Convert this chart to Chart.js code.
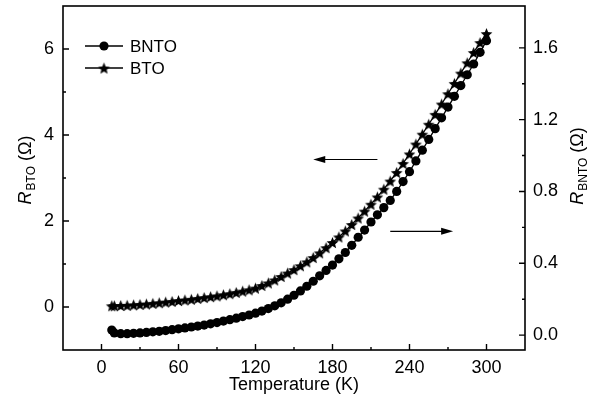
<!DOCTYPE html>
<html>
<head>
<meta charset="utf-8">
<script src="https://cdn.jsdelivr.net/npm/chart.js@4.4.0/dist/chart.umd.min.js"></script>
<style>
  html, body { margin: 0; padding: 0; background: #fff; }
</style>
</head>
<body>
<canvas id="chart" width="592" height="403"></canvas>
<script>
// temperature (K) and the two resistance curves
var temperature = [8, 10, 15, 20, 25, 30, 35, 40, 45, 50, 55, 60, 65, 70, 75, 80, 85, 90, 95, 100,
  105, 110, 115, 120, 125, 130, 135, 140, 145, 150, 155, 160, 165, 170, 175, 180, 185, 190, 195, 200,
  205, 210, 215, 220, 225, 230, 235, 240, 245, 250, 255, 260, 265, 270, 275, 280, 285, 290, 295, 300];
var bntoValues = [0.028, 0.012, 0.008, 0.008, 0.01, 0.012, 0.015, 0.018, 0.021, 0.025, 0.03, 0.035, 0.04, 0.045, 0.05, 0.056, 0.063, 0.07, 0.078, 0.086,
  0.094, 0.103, 0.112, 0.122, 0.134, 0.148, 0.163, 0.18, 0.2, 0.222, 0.246, 0.272, 0.3, 0.33, 0.36, 0.39, 0.425, 0.46, 0.5, 0.545,
  0.585, 0.63, 0.67, 0.71, 0.75, 0.8, 0.855, 0.91, 0.97, 1.03, 1.09, 1.15, 1.21, 1.27, 1.33, 1.39, 1.45, 1.51, 1.575, 1.64];
var btoValues = [0.03, 0.03, 0.035, 0.04, 0.05, 0.06, 0.07, 0.085, 0.1, 0.115, 0.13, 0.15, 0.165, 0.18, 0.2, 0.22, 0.24, 0.26, 0.285, 0.31,
  0.34, 0.37, 0.4, 0.44, 0.5, 0.56, 0.63, 0.71, 0.79, 0.87, 0.96, 1.05, 1.15, 1.26, 1.38, 1.5, 1.63, 1.77, 1.92, 2.07,
  2.23, 2.39, 2.56, 2.74, 2.93, 3.13, 3.34, 3.56, 3.79, 4.02, 4.25, 4.48, 4.72, 4.96, 5.2, 5.44, 5.68, 5.92, 6.15, 6.36];
var seriesNames = ['BNTO', 'BTO'];

var xTicks = [0, 60, 120, 180, 240, 300];
var xMinor = [30, 90, 150, 210, 270];
var leftTicks = [0, 2, 4, 6];
var leftMinor = [1, 3, 5];
var rightTicks = [0, 0.4, 0.8, 1.2, 1.6];
var rightMinor = [0.2, 0.6, 1.0, 1.4];

var FONT = '"Liberation Sans", Arial, sans-serif';

// filled five point star used as marker
function makeStar(r) {
  var c = document.createElement('canvas');
  var s = Math.ceil(r * 2) + 2;
  c.width = s; c.height = s;
  var g = c.getContext('2d');
  g.fillStyle = '#000';
  g.beginPath();
  for (var i = 0; i < 10; i++) {
    var rad = i % 2 == 0 ? r : r * 0.45;
    var a = -Math.PI / 2 + i * Math.PI / 5;
    var px = s / 2 + rad * Math.cos(a), py = s / 2 + 0.8 + rad * Math.sin(a);
    if (i == 0) g.moveTo(px, py); else g.lineTo(px, py);
  }
  g.closePath();
  g.fill();
  return c;
}
var starImg = makeStar(6.2);

function pts(vals) {
  return temperature.map(function (t, i) { return { x: t, y: vals[i] }; });
}

function drawRTitle(ctx, sub, cx, cy) {
  ctx.save();
  ctx.translate(cx, cy);
  ctx.rotate(-Math.PI / 2);
  ctx.fillStyle = '#000';
  ctx.textBaseline = 'alphabetic';
  ctx.textAlign = 'left';
  var fR = 'italic 18px ' + FONT, fS = '12px ' + FONT, fT = '18px ' + FONT;
  ctx.font = fR; var wR = ctx.measureText('R').width + 1;
  ctx.font = fS; var wS = ctx.measureText(sub).width;
  ctx.font = fT; var wT = ctx.measureText(' (\u03A9)').width;
  var x0 = -(wR + wS + wT) / 2;
  ctx.font = fR; ctx.fillText('R', x0, 6);
  ctx.font = fS; ctx.fillText(sub, x0 + wR, 10);
  ctx.font = fT; ctx.fillText(' (\u03A9)', x0 + wR + wS, 6);
  ctx.restore();
}

function arrow(ctx, x1, y, x2) {
  var dir = x2 > x1 ? 1 : -1;
  ctx.beginPath();
  ctx.moveTo(x1, y);
  ctx.lineTo(x2 - dir * 8, y);
  ctx.stroke();
  ctx.beginPath();
  ctx.moveTo(x2, y);
  ctx.lineTo(x2 - dir * 12, y - 3.5);
  ctx.lineTo(x2 - dir * 12, y + 3.5);
  ctx.closePath();
  ctx.fill();
}

function fixBox(width, height) {
  return function (s) {
    if (width) s.width = width;
    if (height) s.height = height;
    s.paddingTop = 0; s.paddingBottom = 0; s.paddingLeft = 0; s.paddingRight = 0;
  };
}

var framePlugin = {
  id: 'frame',
  afterDraw: function (chart) {
    var ctx = chart.ctx, a = chart.chartArea;
    var sx = chart.scales.x, sl = chart.scales.y, sr = chart.scales.y1;
    ctx.save();
    ctx.strokeStyle = '#000';
    ctx.fillStyle = '#000';
    ctx.lineWidth = 1.6;
    ctx.strokeRect(a.left, a.top, a.right - a.left, a.bottom - a.top);
    ctx.lineWidth = 1.4;
    ctx.beginPath();
    xTicks.forEach(function (v) { var p = sx.getPixelForValue(v); ctx.moveTo(p, a.bottom); ctx.lineTo(p, a.bottom - 6); });
    xMinor.forEach(function (v) { var p = sx.getPixelForValue(v); ctx.moveTo(p, a.bottom); ctx.lineTo(p, a.bottom - 3); });
    leftTicks.forEach(function (v) { var p = sl.getPixelForValue(v); ctx.moveTo(a.left, p); ctx.lineTo(a.left + 6, p); });
    leftMinor.forEach(function (v) { var p = sl.getPixelForValue(v); ctx.moveTo(a.left, p); ctx.lineTo(a.left + 3, p); });
    rightTicks.forEach(function (v) { var p = sr.getPixelForValue(v); ctx.moveTo(a.right, p); ctx.lineTo(a.right - 6, p); });
    rightMinor.forEach(function (v) { var p = sr.getPixelForValue(v); ctx.moveTo(a.right, p); ctx.lineTo(a.right - 3, p); });
    ctx.stroke();

    // arrows pointing to the axis each curve belongs to
    ctx.lineWidth = 1.2;
    arrow(ctx, sx.getPixelForValue(215), sl.getPixelForValue(3.43), sx.getPixelForValue(165));
    arrow(ctx, sx.getPixelForValue(225), sr.getPixelForValue(0.578), sx.getPixelForValue(274));

    // legend: line with marker in the middle
    ctx.font = '17px ' + FONT;
    ctx.textBaseline = 'middle';
    ctx.textAlign = 'left';
    chart.data.datasets.forEach(function (ds, i) {
      var y = 46 + i * 22;
      ctx.lineWidth = 1.4;
      ctx.beginPath(); ctx.moveTo(85, y); ctx.lineTo(123, y); ctx.stroke();
      if (ds.pointStyle == 'circle') {
        ctx.beginPath(); ctx.arc(104, y, 4.6, 0, Math.PI * 2); ctx.fill();
      } else {
        ctx.drawImage(starImg, 104 - starImg.width / 2, y - starImg.height / 2);
      }
      ctx.fillText(ds.label, 130, y + 1);
    });

    // axis titles
    ctx.font = '18px ' + FONT;
    ctx.textAlign = 'center';
    ctx.textBaseline = 'middle';
    ctx.fillText('Temperature (K)', (a.left + a.right) / 2, 385);
    drawRTitle(ctx, 'BTO', 25, 170);
    drawRTitle(ctx, 'BNTO', 577, 166);
    ctx.restore();
  }
};

var tickFont = { family: FONT, size: 18 };

new Chart(document.getElementById('chart'), {
  type: 'line',
  data: {
    datasets: [{
      label: seriesNames[0],
      data: pts(bntoValues),
      yAxisID: 'y1',
      borderColor: '#000',
      borderWidth: 1.3,
      pointStyle: 'circle',
      pointRadius: 4.6,
      pointBackgroundColor: '#000',
      pointBorderWidth: 0,
      tension: 0
    }, {
      label: seriesNames[1],
      data: pts(btoValues),
      yAxisID: 'y',
      borderColor: '#000',
      borderWidth: 1.3,
      pointStyle: starImg,
      pointRadius: 6,
      pointBackgroundColor: '#000',
      pointBorderWidth: 0,
      tension: 0
    }]
  },
  options: {
    responsive: false,
    animation: false,
    devicePixelRatio: 1,
    layout: { padding: { top: 5, left: 0, right: 0, bottom: 0 } },
    plugins: { legend: { display: false }, tooltip: { enabled: false } },
    scales: {
      x: {
        type: 'linear', min: -30, max: 330,
        grid: { display: false, drawTicks: false },
        border: { display: false },
        ticks: { font: tickFont, color: '#000', padding: 7 },
        afterBuildTicks: function (s) { s.ticks = xTicks.map(function (v) { return { value: v }; }); },
        afterFit: fixBox(0, 53)
      },
      y: {
        type: 'linear', position: 'left', min: -1, max: 7,
        grid: { display: false, drawTicks: false },
        border: { display: false },
        ticks: { font: tickFont, color: '#000', padding: 9 },
        afterBuildTicks: function (s) { s.ticks = leftTicks.map(function (v) { return { value: v }; }); },
        afterFit: fixBox(63, 0)
      },
      y1: {
        type: 'linear', position: 'right', min: -0.083, max: 1.833,
        grid: { display: false, drawTicks: false },
        border: { display: false },
        ticks: { font: tickFont, color: '#000', padding: 8, callback: function (v) { return v.toFixed(1); } },
        afterBuildTicks: function (s) { s.ticks = rightTicks.map(function (v) { return { value: v }; }); },
        afterFit: fixBox(67, 0)
      }
    }
  },
  plugins: [framePlugin]
});
</script>
</body>
</html>
